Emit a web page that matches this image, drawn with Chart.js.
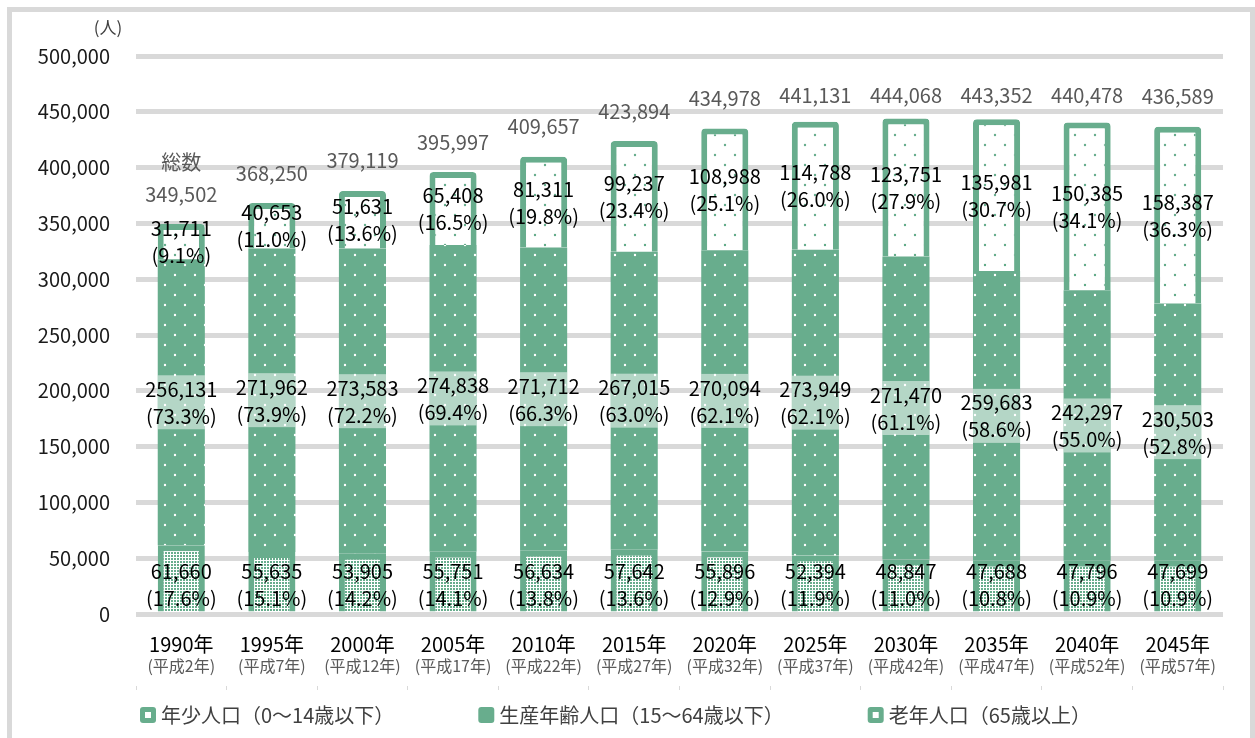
<!DOCTYPE html>
<html lang="ja">
<head>
<meta charset="utf-8">
<title>年齢3区分別人口の推移</title>
<script src="https://cdn.jsdelivr.net/npm/chart.js@4.4.1/dist/chart.umd.min.js"></script>
<style>
html,body{margin:0;padding:0;background:#fff;overflow:hidden;}
#wrap{position:relative;width:1255px;height:738px;}
#frame{position:absolute;left:7px;top:7px;right:0;height:800px;border:5px solid #d9d9d9;box-sizing:border-box;pointer-events:none;}
</style>
</head>
<body>
<div id="wrap">
  <canvas id="chart" width="1255" height="738"></canvas>
  <div id="frame"></div>
</div>
<script>
const years=["1990年","1995年","2000年","2005年","2010年","2015年","2020年","2025年","2030年","2035年","2040年","2045年"];
const heisei=["(平成2年)","(平成7年)","(平成12年)","(平成17年)","(平成22年)","(平成27年)","(平成32年)","(平成37年)","(平成42年)","(平成47年)","(平成52年)","(平成57年)"];

const young=[61660,55635,53905,55751,56634,57642,55896,52394,48847,47688,47796,47699];
const working=[256131,271962,273583,274838,271712,267015,270094,273949,271470,259683,242297,230503];
const old=[31711,40653,51631,65408,81311,99237,108988,114788,123751,135981,150385,158387];
const totals=[349502,368250,379119,395997,409657,423894,434978,441131,444068,443352,440478,436589];

const youngPct=[17.6,15.1,14.2,14.1,13.8,13.6,12.9,11.9,11.0,10.8,10.9,10.9];
const workingPct=[73.3,73.9,72.2,69.4,66.3,63.0,62.1,62.1,61.1,58.6,55.0,52.8];
const oldPct=[9.1,11.0,13.6,16.5,19.8,23.4,25.1,26.0,27.9,30.7,34.1,36.3];

const seriesNames=["年少人口（0～14歳以下）","生産年齢人口（15～64歳以下）","老年人口（65歳以上）"];

const GREEN="#68ad8d";
const FONT="'Noto Sans CJK JP','Noto Sans',sans-serif";
Chart.defaults.font.family=FONT;

// small canvas tiles used as bar fills
function tile(w,h,draw){
  const c=document.createElement("canvas");
  c.width=w;c.height=h;
  const g=c.getContext("2d");
  draw(g);
  return c.getContext("2d").createPattern(c,"repeat");
}
const youngPat=tile(3,3,g=>{
  g.fillStyle="#fff";g.fillRect(0,0,3,3);
  g.fillStyle=GREEN;g.fillRect(0,0,2,2);
});
const workPat=tile(20,20,g=>{
  g.fillStyle=GREEN;g.fillRect(0,0,20,20);
  g.fillStyle="#fff";
  g.beginPath();g.arc(5,5,1.2,0,Math.PI*2);g.arc(15,15,1.2,0,Math.PI*2);g.fill();
});
const oldPat=tile(20,20,g=>{
  g.fillStyle="#fff";g.fillRect(0,0,20,20);
  g.fillStyle=GREEN;
  g.beginPath();g.arc(5,5,1.2,0,Math.PI*2);g.arc(15,15,1.2,0,Math.PI*2);g.fill();
});

const fmt=v=>v.toLocaleString("en-US");

// value + share labels, totals, unit
const labelPlugin={
  id:"segLabels",
  afterDatasetsDraw(chart){
    const ctx=chart.ctx;
    const pcts=[youngPct,workingPct,oldPct];
    ctx.save();
    ctx.font="20px "+FONT;
    ctx.textAlign="center";
    ctx.textBaseline="middle";
    chart.data.datasets.forEach((ds,di)=>{
      chart.getDatasetMeta(di).data.forEach((bar,i)=>{
        const p=bar.getProps(["x","y","base","width"],true);
        let cy=(p.y+p.base)/2;
        if(di===0) cy=p.base-27;
        if(di===1){
          ctx.fillStyle="rgba(255,255,255,0.5)";
          ctx.fillRect(p.x-p.width/2,cy-27,p.width,54);
        }
        ctx.fillStyle="#000";
        ctx.fillText(fmt(ds.data[i]),p.x,cy-13);
        ctx.fillText("("+pcts[di][i].toFixed(1)+"%)",p.x,cy+14);
      });
    });
    ctx.fillStyle="#595959";
    chart.getDatasetMeta(2).data.forEach((bar,i)=>{
      const ty=Math.max(bar.y-30,95);
      ctx.fillText(fmt(totals[i]),bar.x,ty);
      if(i===0) ctx.fillText("総数",bar.x,ty-32);
    });
    ctx.font="17px "+FONT;
    ctx.fillStyle="#404040";
    ctx.fillText("(人)",108,28);
    ctx.restore();
  }
};

// legend spaced like the original
const legendPlugin={
  id:"bottomLegend",
  afterDraw(chart){
    const ctx=chart.ctx;
    ctx.save();
    ctx.font="20px "+FONT;
    ctx.textAlign="left";
    ctx.textBaseline="middle";
    let x=140;
    const cy=715;
    chart.data.datasets.forEach((ds,i)=>{
      ctx.fillStyle=GREEN;
      ctx.beginPath();ctx.roundRect(x,cy-8,16,16,3);ctx.fill();
      if(i!==1){
        ctx.fillStyle="#fff";
        ctx.fillRect(x+5,cy-3,6,6);
      }
      ctx.fillStyle="#404040";
      ctx.fillText(ds.label,x+21,cy);
      x+=21+ctx.measureText(ds.label).width+84;
    });
    ctx.restore();
  }
};

new Chart(document.getElementById("chart"),{
  type:"bar",
  data:{
    labels:years,
    datasets:[
      {label:seriesNames[0],data:young,backgroundColor:youngPat,borderColor:GREEN,borderWidth:6},
      {label:seriesNames[1],data:working,backgroundColor:workPat,borderColor:GREEN,borderWidth:0},
      {label:seriesNames[2],data:old,backgroundColor:oldPat,borderColor:GREEN,borderWidth:6,borderRadius:4}
    ]
  },
  options:{
    responsive:false,
    animation:false,
    layout:{padding:{top:56,right:32,bottom:48,left:0}},
    datasets:{bar:{barPercentage:0.52,categoryPercentage:1}},
    plugins:{legend:{display:false},tooltip:{enabled:false}},
    scales:{
      x:{
        stacked:true,
        grid:{display:false,drawTicks:false},
        border:{display:false},
        ticks:{font:{size:20},color:"#000",padding:18,maxRotation:0,autoSkip:false},
        afterFit(s){s.height=40;}
      },
      x2:{
        position:"bottom",weight:1,labels:heisei,
        grid:{display:false,drawTicks:false},
        border:{display:false},
        ticks:{font:{size:16},color:"#595959",padding:2,maxRotation:0,minRotation:0,autoSkip:false},
        afterFit(s){s.height=32;}
      },
      x3:{
        position:"bottom",weight:2,
        grid:{display:true,drawOnChartArea:false,drawTicks:true,tickLength:4,color:"#d9d9d9"},
        border:{display:false},
        ticks:{display:false},
        afterFit(s){s.height=4;}
      },
      y:{
        stacked:true,min:0,max:500000,
        ticks:{stepSize:50000,padding:26,font:{size:20},color:"#1a1a1a",callback:v=>fmt(v)},
        grid:{color:"#d9d9d9",lineWidth:5,drawTicks:false},
        border:{display:false},
        afterFit(s){s.width=136;}
      }
    }
  },
  plugins:[labelPlugin,legendPlugin]
});
</script>
</body>
</html>
